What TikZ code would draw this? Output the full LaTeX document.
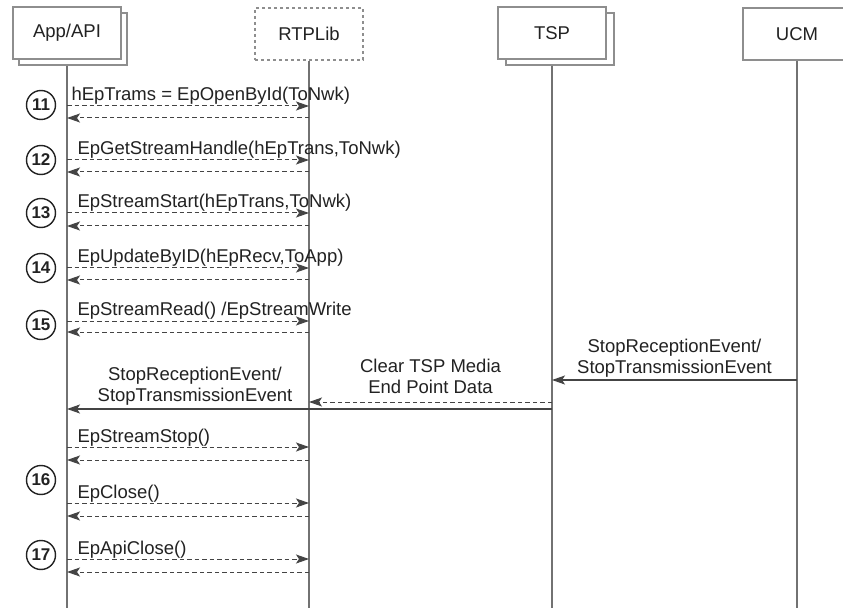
\documentclass[tikz,border=0pt]{standalone}
\usepackage{fontspec}
\setmainfont{Liberation Sans}
\usetikzlibrary{arrows.meta,positioning}
\definecolor{linegray}{HTML}{444444}
\definecolor{boxgray}{HTML}{8E8E8E}
\definecolor{txtgray}{HTML}{222222}
\tikzset{
  head/.style={draw=boxgray,fill=white,line width=1.2pt,minimum width=108pt,minimum height=52pt,
    font=\fontsize{18.5}{21}\selectfont,text=txtgray},
  life/.style={draw=boxgray!80!black,line width=1.2pt},
  call/.style={draw=linegray,line width=1pt,dash pattern=on 4.5pt off 3pt,-{Stealth[length=13pt,width=9pt,inset=3pt]}},
  event/.style={draw=linegray,line width=1.2pt,-{Stealth[length=13pt,width=9pt,inset=3pt]}},
  msg/.style={font=\fontsize{18.5}{21}\selectfont,text=txtgray,inner sep=0pt,align=center},
  stepnum/.style={circle,draw=txtgray,line width=1.4pt,minimum size=29pt,inner sep=0pt,
    font=\bfseries\fontsize{17}{17}\selectfont,text=txtgray}
}
\begin{document}
\begin{tikzpicture}[x=1pt,y=-1pt]
\clip (0,0) rectangle (843,612);
\fill[white] (0,0) rectangle (843,612);
% heads
\node[head] (apps) at (73,39) {};
\node[head] (app) at (67,33) {App/API};
\node[head,dashed] (rtp) at (309,34) {RTPLib};
\node[head] (tsps) at (560,39) {};
\node[head] (tsp) at (552,33) {TSP};
\node[head] (ucm) at (797,34) {UCM};
% lifelines
\path (app |- 0,608) coordinate (append);
\path (rtp |- 0,608) coordinate (rtpend);
\path (tsp |- 0,608) coordinate (tspend);
\path (ucm |- 0,608) coordinate (ucmend);
\draw[life] (apps.south -| app) -- (append);
\draw[life] (rtp.south) -- (rtpend);
\draw[life] (tsps.south -| tsp) -- (tspend);
\draw[life] (ucm.south) -- (ucmend);
% API calls and returns
\foreach \n/\yf/\yr/\dx/\txt in {
    1/106/118/4/{hEpTrams = EpOpenById(ToNwk)},
    2/160/172/10/{EpGetStreamHandle(hEpTrans,ToNwk)},
    3/213/226/10/{EpStreamStart(hEpTrans,ToNwk)},
    4/268/280/10/{EpUpdateByID(hEpRecv,ToApp)},
    5/321/332/10/{EpStreamRead() /EpStreamWrite},
    6/447/460/10/{EpStreamStop()},
    7/503/516/10/{EpClose()},
    8/559/572/10/{EpApiClose()}} {
  \path (app |- 0,\yf) coordinate (a\n) (rtp |- 0,\yf) coordinate (r\n);
  \path (app |- 0,\yr) coordinate (b\n) (rtp |- 0,\yr) coordinate (s\n);
  \draw[call] (a\n) -- (r\n) node[pos=0,msg,anchor=base west,xshift=\dx pt,yshift=5pt] {\txt};
  \draw[call] (s\n) -- (b\n);
}
% step numbers
\foreach \k/\y in {11/105,12/160,13/213,14/268,15/325,16/480,17/555}
  \node[stepnum] (st\k) at (41,\y) {\k};
% events
\path (ucm |- 0,380) coordinate (ucmev) (tsp |- 0,380) coordinate (tspev);
\draw[event] (ucmev) -- (tspev)
  node[midway,msg,above=2pt] {StopReceptionEvent/\\StopTransmissionEvent};
\path (tsp |- 0,402) coordinate (tspclr) (rtp |- 0,402) coordinate (rtpclr);
\draw[call] (tspclr) -- (rtpclr)
  node[midway,msg,above=8pt] {Clear TSP Media\\End Point Data};
\path (tsp |- 0,409) coordinate (tspstop) (app |- 0,409) coordinate (appstop);
\draw[event] (tspstop) -- (appstop);
\node[msg,above=3pt] (stoptxt) at (195,409) {StopReceptionEvent/\\StopTransmissionEvent};
\end{tikzpicture}
\end{document}
